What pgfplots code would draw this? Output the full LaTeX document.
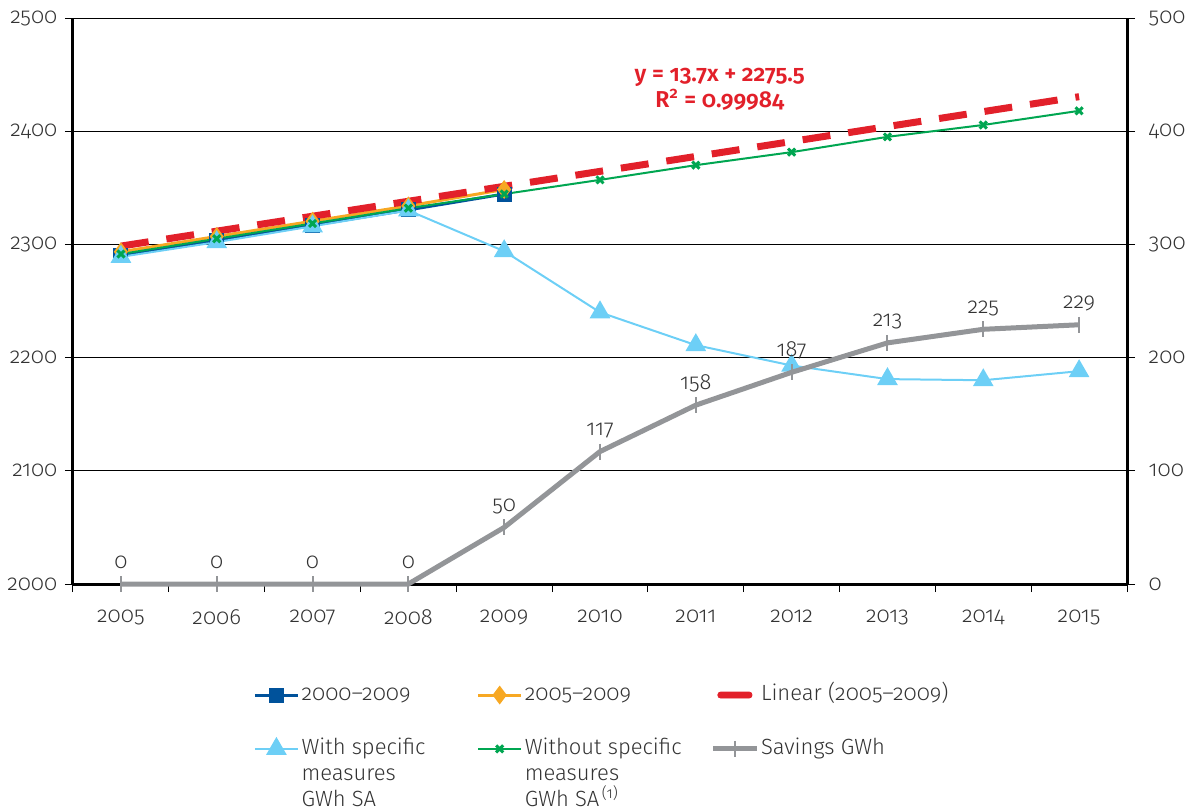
\documentclass[border=0pt]{standalone}
\usepackage{fontspec}
\setmainfont{Fira Sans}[Numbers=OldStyle, UprightFont={* Light}, BoldFont={* SemiBold}]
\usepackage{pgfplots}
\pgfplotsset{compat=1.18}
\definecolor{cblue}{HTML}{00529B}
\definecolor{corange}{HTML}{F7A823}
\definecolor{cred}{HTML}{E2202A}
\definecolor{clblue}{HTML}{6DCFF6}
\definecolor{cgreen}{HTML}{00A651}
\definecolor{cgray}{HTML}{939598}
\definecolor{ctext}{HTML}{333333}
\begin{document}
\fontsize{11}{13}\selectfont
\begin{tikzpicture}
\useasboundingbox (0,0) rectangle (597.5pt,405pt);
\begin{axis}[
  at={(36.5pt,113pt)}, anchor=south west,
  width=527pt, height=283pt, scale only axis,
  xmin=-0.5, xmax=10.5, ymin=2000, ymax=2500,
  axis x line*=bottom, axis y line*=left,
  axis line style={line width=1.5pt, -},
  xtick={-0.5,0.5,...,10.5}, xticklabels={},
  ytick={2000,2100,...,2500},
  ymajorgrids, grid style={black, line width=0.5pt},
  tick align=outside, major tick length=4pt,
  tick style={black, line width=0.5pt},
  /pgf/number format/assume math mode=true,
  /pgf/number format/1000 sep={},
  tick label style={text=ctext, font=\fontsize{11}{13}\selectfont},
  legend image code/.code={\draw[mark repeat=2,mark phase=2] plot coordinates {(0cm,0cm) (0.38cm,0cm) (0.76cm,0cm)};},
  legend style={at={(0.165,-0.1625)}, anchor=north west, draw=none, fill=none,
    legend columns=3, row sep=15pt, column sep=0pt,
    cells={anchor=mid west}, nodes={inner sep=1pt, text=ctext},
    font=\fontsize{11}{13}\selectfont},
]
\addplot[cblue, line width=1.5pt, mark=square*, mark size=3pt] coordinates {
(0,2290) (1,2303.5) (2,2317) (3,2330.5) (4,2344.5)};
\addlegendentry{\parbox[t]{86.5pt}{2000–2009}}
\addplot[corange, line width=1.5pt, mark=diamond*, mark size=3.5pt] coordinates {
(0,2293.5) (1,2307) (2,2320.5) (3,2334) (4,2348.5)};
\addlegendentry{\parbox[t]{92pt}{2005–2009}}
\addlegendimage{cred, solid, no marks, legend image code/.code={\fill[cred, rounded corners=1.4pt] (0.08cm,-1.5pt) rectangle (0.68cm,1.5pt);}}
\addlegendentry{Linear (2005–2009)}
\addplot[clblue, line width=1pt, mark=triangle*, mark size=5pt] coordinates {
(0,2289) (1,2302) (2,2316) (3,2330) (4,2294) (5,2240) (6,2211) (7,2193) (8,2181) (9,2180) (10,2188)};
\addlegendentry{\parbox[t]{86.5pt}{With specific\\measures\\GWh SA}}
\addplot[cgreen, line width=1pt, mark=x, mark size=2.5pt, mark options={line width=1.5pt}] coordinates {
(0,2291.5) (1,2305) (2,2318.5) (3,2332) (4,2344.5) (5,2357) (6,2370) (7,2381.5) (8,2395) (9,2405.5) (10,2418)};
\addlegendentry{\parbox[t]{92pt}{Without specific\\measures\\GWh SA\textsuperscript{\,(1)}}}
\addlegendimage{cgray, line width=2.5pt, mark=|, mark options={line width=1pt, mark size=4pt}}
\addlegendentry{Savings GWh}
\addplot[cred, line width=3.5pt, dash pattern=on 14pt off 9pt, forget plot] coordinates {
(0,2298.5) (10,2430.5)};
\node[text=cred, font=\fontsize{11.5}{13}\selectfont\bfseries, align=center] at (axis cs:6.25,2437) {y = 13.7x + 2275.5\\R\textsuperscript{2} = 0.99984};
\end{axis}
\begin{axis}[
  at={(36.5pt,113pt)}, anchor=south west,
  width=527pt, height=283pt, scale only axis,
  xmin=-0.5, xmax=10.5, ymin=0, ymax=500,
  axis y line*=right, axis x line*=bottom,
  axis line style={line width=1.5pt, -},
  x axis line style={draw=none},
  xtick={0,...,10}, xticklabels={2005,2006,2007,2008,2009,2010,2011,2012,2013,2014,2015},
  xtick style={draw=none},
  xticklabel style={yshift=-5pt},
  ytick={0,100,...,500},
  yticklabel style={xshift=3pt},
  tick align=outside, major tick length=4pt,
  tick style={black, line width=0.5pt},
  /pgf/number format/assume math mode=true,
  /pgf/number format/1000 sep={},
  tick label style={text=ctext, font=\fontsize{11}{13}\selectfont},
  clip=false,
]
\addplot[cgray, line width=2.5pt, mark=|, mark options={line width=1pt, mark size=4pt},
  nodes near coords,
  every node near coord/.append style={anchor=base, inner sep=0pt, yshift=8pt, text=ctext, font=\fontsize{11}{13}\selectfont}] coordinates {
(0,0) (1,0) (2,0) (3,0) (4,50) (5,117) (6,158) (7,187) (8,213) (9,225) (10,229)};
\end{axis}
\end{tikzpicture}
\end{document}
